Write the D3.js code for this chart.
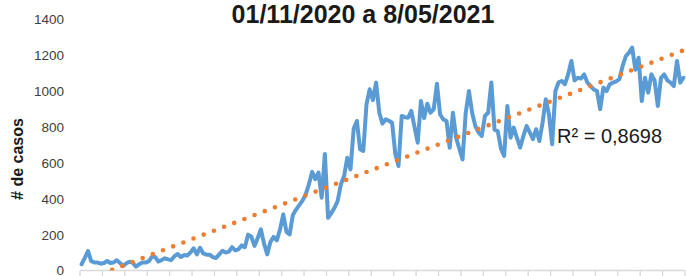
<!DOCTYPE html>
<html>
<head>
<meta charset="utf-8">
<script src="https://cdn.jsdelivr.net/npm/d3@7"></script>
<style>
  body { margin: 0; background: #fff; }
  svg { display: block; font-family: 'Liberation Sans', Arial, sans-serif; }
</style>
</head>
<body>
<svg id="chart" width="686" height="276"></svg>
<script>
// daily cases, 01/11/2020 .. 08/05/2021
const startDate = new Date(2020, 10, 1);
const endDate = new Date(2021, 4, 9);
const casos = [
  35, 70, 109, 52, 45, 44, 38, 42, 53, 42,
  45, 57, 42, 25, 40, 49, 42, 22, 35, 45,
  44, 52, 78, 75, 50, 58, 68, 62, 58, 80,
  92, 75, 86, 84, 100, 124, 90, 127, 95, 88,
  88, 75, 70, 90, 110, 100, 105, 130, 112, 118,
  140, 130, 200, 190, 137, 180, 230, 150, 90, 160,
  187, 168, 230, 313, 215, 202, 310, 340, 365, 390,
  425, 480, 550, 510, 546, 406, 650, 294, 320, 350,
  388, 481, 527, 629, 564, 790, 834, 676, 667, 927,
  1011, 950, 1048, 880, 819, 843, 835, 824, 650, 583,
  862, 855, 852, 890, 800, 713, 946, 850, 930, 880,
  900, 1042, 870, 843, 834, 685, 880, 740, 680, 620,
  880, 1001, 880, 806, 770, 750, 862, 880, 1048, 785,
  778, 680, 639, 918, 741, 797, 740, 685, 750, 806,
  770, 732, 788, 722, 824, 955, 871, 704, 1000, 1050,
  1057, 1039, 1094, 1169, 1060, 1075, 1070, 1094, 1048, 1029,
  1010, 1001, 900, 1020, 1001, 1039, 1048, 1055, 1067, 1140,
  1195, 1215, 1243, 1120, 1187, 945, 1075, 992, 1094, 1060,
  918, 1075, 1094, 1060, 1048, 1029, 1169, 1048, 1075
];
const yTicks = [0, 200, 400, 600, 800, 1000, 1200, 1400];
const tituloTxt = '01/11/2020 a 8/05/2021';
const yTitulo = '# de casos';
const r2Txt = 'R² = 0,8698';

const dias = d3.timeDay.range(startDate, endDate);
const data = dias.map((d, i) => ({ dia: d, i: i, v: casos[i] }));

const svg = d3.select('#chart');
const pLeft = 80, pRight = 685, pTop = 19.5, pBottom = 270.5;

const x = d3.scaleBand().domain(dias).range([pLeft, pRight]).paddingInner(0).paddingOuter(0);
const y = d3.scaleLinear().domain([0, 1400]).range([pBottom, pTop]);
const cx = d => x(d) + x.bandwidth() / 2;

// y labels (no axis line)
svg.append('g')
  .selectAll('text')
  .data(yTicks)
  .join('text')
  .attr('x', 64)
  .attr('y', d => y(d))
  .attr('dy', '0.36em')
  .attr('text-anchor', 'end')
  .attr('font-size', 13.5)
  .attr('fill', '#404040')
  .text(d => d);

// x axis line + weekly tick marks
const ax = svg.append('g');
ax.append('line')
  .attr('x1', pLeft).attr('x2', pRight)
  .attr('y1', pBottom).attr('y2', pBottom)
  .attr('stroke', '#d9d9d9').attr('stroke-width', 1.3);
const tickPos = dias.filter((d, i) => i % 7 === 0).map(d => x(d)).concat([pRight]);
ax.selectAll('.tk')
  .data(tickPos)
  .join('line')
  .attr('class', 'tk')
  .attr('x1', d => d).attr('x2', d => d)
  .attr('y1', pBottom).attr('y2', pBottom + 6)
  .attr('stroke', '#d9d9d9').attr('stroke-width', 1.3);

// linear trendline from the series (least squares)
const n = casos.length;
const mx = d3.mean(data, d => d.i), my = d3.mean(casos);
const b = d3.sum(data, d => (d.i - mx) * (d.v - my)) / d3.sum(data, d => (d.i - mx) ** 2);
const a = my - b * mx;

svg.append('clipPath').attr('id', 'plot')
  .append('rect').attr('x', pLeft).attr('y', pTop - 10).attr('width', pRight - pLeft + 2).attr('height', pBottom - pTop + 10);

// blue series
svg.append('path')
  .datum(data)
  .attr('fill', 'none')
  .attr('stroke', '#5b9bd5')
  .attr('stroke-width', 4)
  .attr('stroke-linejoin', 'round')
  .attr('stroke-linecap', 'round')
  .attr('d', d3.line().x(d => cx(d.dia)).y(d => y(d.v)));

// dotted trendline, clipped at 0
svg.append('g').attr('clip-path', 'url(#plot)')
  .append('path')
  .datum([data[0], data[n - 1]])
  .attr('fill', 'none')
  .attr('stroke', '#ed7d31')
  .attr('stroke-width', 4.6)
  .attr('stroke-linecap', 'round')
  .attr('stroke-dasharray', '0 10.9')
  .attr('d', d3.line().x(d => cx(d.dia)).y(d => y(a + b * d.i)));

svg.append('text')
  .attr('x', 557).attr('y', 143)
  .attr('font-size', 20)
  .attr('fill', '#1a1a1a')
  .text(r2Txt);

svg.append('text')
  .attr('x', 363).attr('y', 23)
  .attr('text-anchor', 'middle')
  .attr('font-size', 25)
  .attr('font-weight', 'bold')
  .attr('fill', '#1a1a1a')
  .text(tituloTxt);

svg.append('text')
  .attr('transform', 'translate(17,159) rotate(-90)')
  .attr('text-anchor', 'middle')
  .attr('dy', '0.35em')
  .attr('font-size', 16)
  .attr('font-weight', 'bold')
  .attr('fill', '#1a1a1a')
  .text(yTitulo);
</script>
</body>
</html>
